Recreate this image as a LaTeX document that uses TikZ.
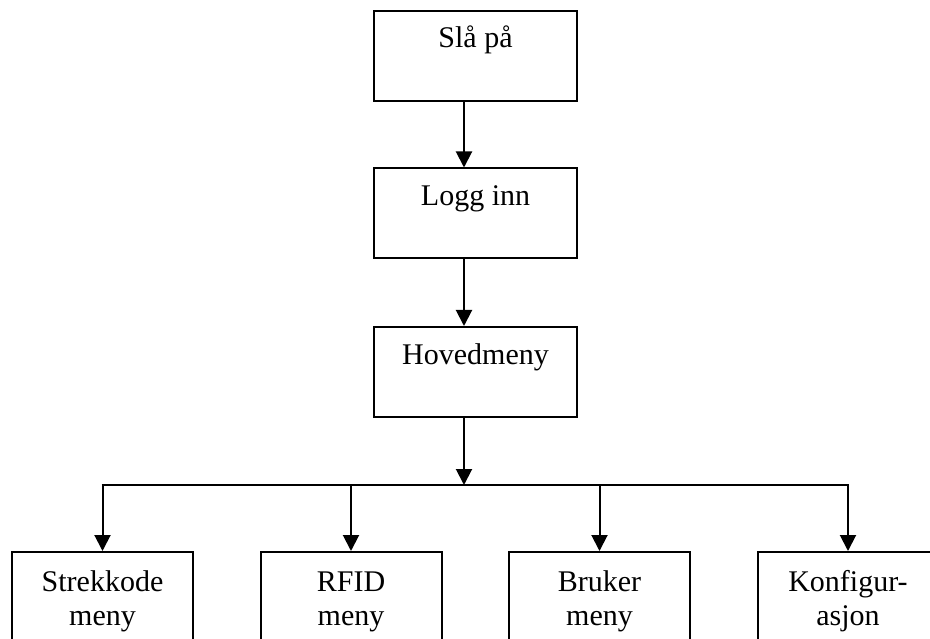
\documentclass[tikz,border=0pt]{standalone}
\usepackage{fontspec}
\setmainfont{Liberation Serif}
\usetikzlibrary{arrows.meta,calc}
\begin{document}
\begin{tikzpicture}[x=1pt,y=-1pt,
  box/.style={draw,line width=2pt,rectangle,inner sep=0pt},
  mainbox/.style={box,minimum width=203pt,minimum height=90pt},
  subbox/.style={box,minimum width=181pt,minimum height=110pt},
  lbl/.style={anchor=base,inner sep=0pt,align=center,
    font=\fontsize{30pt}{34pt}\selectfont},
  arr/.style={line width=2pt,-{Triangle[width=16pt,length=16pt]}},
  wire/.style={line width=2pt}]
\useasboundingbox (0,0) rectangle (930,639);
\clip (0,0) rectangle (930,639);
% main chain
\node[mainbox] (slaa) at (475.5,56) {};
\node[mainbox] (logg) at (475.5,213.5) {};
\node[mainbox] (hoved) at (475.5,372) {};
\node[lbl] (tslaa) at ($(slaa.north)+(0,37.5)$) {Slå på};
\node[lbl] (tlogg) at ($(logg.north)+(0,38.5)$) {Logg inn};
\node[lbl] (thoved) at ($(hoved.north)+(0,38)$) {Hovedmeny};
% sub menus (label base sits on the second line)
\node[subbox] (strek) at (102.5,607) {};
\node[subbox] (rfid) at (351,607) {};
\node[subbox] (bruker) at (599.5,607) {};
\node[subbox] (konf) at (848,607) {};
\node[lbl] (tstrek) at ($(strek.north)+(0,74)$) {Strekkode\\meny};
\node[lbl] (trfid) at ($(rfid.north)+(0,74)$) {RFID\\meny};
\node[lbl] (tbruker) at ($(bruker.north)+(0,74)$) {Bruker\\meny};
\node[lbl] (tkonf) at ($(konf.north)+(0,74)$) {Konfigur-\\asjon};
% connectors
\coordinate (spine) at (464,0);
\coordinate (bus) at (0,485);
\draw[arr] (slaa.south -| spine) -- (logg.north -| spine);
\draw[arr] (logg.south -| spine) -- (hoved.north -| spine);
\draw[arr] (hoved.south -| spine) -- (bus -| spine);
\draw[wire] ($(bus -| strek.north)+(-1,0)$) -- ($(bus -| konf.north)+(1,0)$);
\draw[arr] (bus -| strek.north) -- (strek.north);
\draw[arr] (bus -| rfid.north) -- (rfid.north);
\draw[arr] (bus -| bruker.north) -- (bruker.north);
\draw[arr] (bus -| konf.north) -- (konf.north);
\end{tikzpicture}
\end{document}
